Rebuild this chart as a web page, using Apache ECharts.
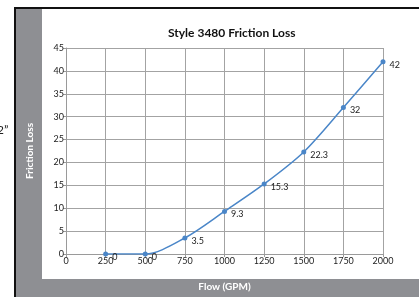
<!DOCTYPE html>
<html>
<head>
<meta charset="utf-8">
<script src="https://cdn.jsdelivr.net/npm/echarts@6/dist/echarts.min.js"></script>
<style>
  html, body { margin: 0; padding: 0; background: #fff; }
  #main { width: 419px; height: 297px; }
</style>
</head>
<body>
<div id="main"></div>
<script>
var flow = [250, 500, 750, 1000, 1250, 1500, 1750, 2000];
var loss = [0, 0, 3.5, 9.3, 15.3, 22.3, 32, 42];

var points = flow.map(function (f, i) { return [f, loss[i]]; });

var chart = echarts.init(document.getElementById('main'));
var option = {
    animation: false,
    textStyle: { fontFamily: 'Lato' },
    graphic: [
        // gray bands around the plot
        { type: 'rect', shape: { x: 16, y: 9, width: 26, height: 288 }, style: { fill: '#8e8f93' } },
        { type: 'rect', shape: { x: 16, y: 279, width: 403, height: 18 }, style: { fill: '#8e8f93' } },
        // black frame
        { type: 'line', shape: { x1: 14, y1: 8, x2: 419, y2: 8 }, style: { stroke: '#111', lineWidth: 2 } },
        { type: 'line', shape: { x1: 15, y1: 8, x2: 15, y2: 297 }, style: { stroke: '#111', lineWidth: 2 } },
        { type: 'text', left: -3, top: 124, style: { text: '2\u201D', fontSize: 12, fill: '#222', fontFamily: 'Lato' } }
    ],
    title: {
        text: 'Style 3480 Friction Loss',
        left: 163,
        top: 22,
        textStyle: { fontSize: 12, fontWeight: 'bold', color: '#111', fontFamily: 'Lato' }
    },
    grid: { left: 66, right: 36, top: 48, bottom: 40 },
    xAxis: {
        type: 'value',
        min: 0,
        max: 2000,
        interval: 250,
        name: 'Flow (GPM)',
        nameLocation: 'middle',
        nameGap: 28,
        nameTextStyle: { color: '#fff', fontWeight: 'bold', fontSize: 10 },
        axisLine: { lineStyle: { color: '#9a9a9a' } },
        axisTick: { show: true, length: 3, lineStyle: { color: '#9a9a9a' } },
        axisLabel: { color: '#222', fontSize: 9, margin: 3, formatter: function (v) { return String(v); } },
        splitLine: { show: true, lineStyle: { color: '#a3a3a3', width: 1 } }
    },
    yAxis: {
        type: 'value',
        min: 0,
        max: 45,
        interval: 5,
        name: 'Friction Loss',
        nameLocation: 'middle',
        nameGap: 31,
        nameTextStyle: { color: '#fff', fontWeight: 'bold', fontSize: 10 },
        axisLine: { show: true, lineStyle: { color: '#9a9a9a' } },
        axisTick: { show: true, length: 3, lineStyle: { color: '#9a9a9a' } },
        axisLabel: { color: '#222', fontSize: 9, margin: 2 },
        splitLine: { show: true, lineStyle: { color: '#a3a3a3', width: 1 } }
    },
    series: [{
        type: 'line',
        data: points,
        smooth: 0.3,
        symbol: 'circle',
        symbolSize: 5,
        lineStyle: { color: '#4a86c8', width: 1.5 },
        itemStyle: { color: '#4a86c8' },
        label: {
            show: true,
            position: 'right',
            distance: 4,
            offset: [0, 3],
            fontSize: 9,
            color: '#222'
        }
    }]
};
chart.setOption(option);
</script>
</body>
</html>
